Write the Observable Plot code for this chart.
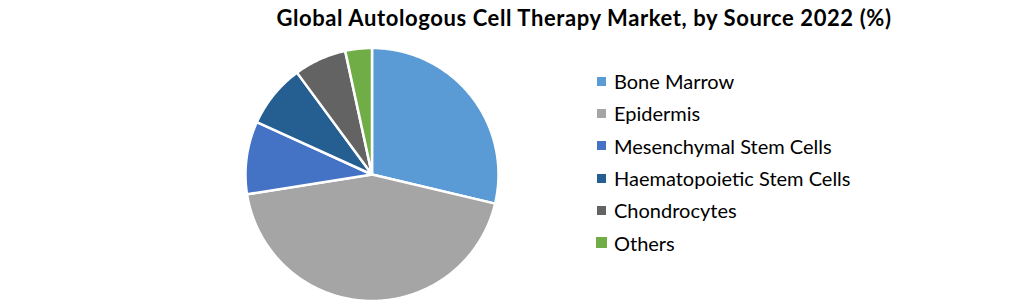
<!DOCTYPE html>
<html><head><meta charset="utf-8">
<script src="https://cdn.jsdelivr.net/npm/d3@7"></script>
<script src="https://cdn.jsdelivr.net/npm/@observablehq/plot@0.6"></script>
<style>
body{margin:0;background:#fff;}
#wrap{position:relative;width:1020px;height:303px;overflow:hidden;font-family:Lato,"Open Sans",sans-serif;color:#000;}
#chart{position:absolute;left:0;top:0;}
#title{position:absolute;left:0;top:6.5px;width:1020px;padding-left:148px;box-sizing:border-box;text-align:center;font-weight:bold;font-size:22px;letter-spacing:0.6px;line-height:22px;white-space:nowrap;}
#legend{position:absolute;left:597px;top:65px;}
.row{height:32.3px;display:flex;align-items:center;font-size:20px;white-space:nowrap;}
.sw{width:9px;height:9px;margin-right:8px;flex:none;}
.row:last-child .sw{width:11px;height:11px;margin-left:-1px;margin-right:7px;}
</style></head>
<body>
<div id="wrap"><div id="chart"></div><div id="title"></div><div id="legend"></div></div>
<script>
const titleText = "Global Autologous Cell Therapy Market, by Source 2022 (%)";
const categories = ["Bone Marrow","Epidermis","Mesenchymal Stem Cells","Haematopoietic Stem Cells","Chondrocytes","Others"];
const shares = [28.7,43.8,9.3,8.1,6.7,3.4];
const colors = ["#5B9BD5","#A5A5A5","#4472C4","#255E91","#636363","#70AD47"];

const W = 1020, H = 303, R = 126.5, cx = 371.5, cy = 174;

const arcs = d3.pie().sort(null).value(d => d.value)(categories.map((c, i) => ({name: c, value: shares[i]})));
const pts = [];
for (const a of arcs) {
  const name = a.data.name;
  pts.push({name, x: 0, y: 0});
  const n = Math.max(2, Math.ceil((a.endAngle - a.startAngle) / 0.01));
  for (let k = 0; k <= n; k++) {
    const t = a.startAngle + (a.endAngle - a.startAngle) * k / n;
    pts.push({name, x: Math.sin(t), y: Math.cos(t)});
  }
  pts.push({name, x: 0, y: 0});
}

const plot = Plot.plot({
  width: W, height: H,
  margin: 0,
  x: {domain: [-cx / R, (W - cx) / R], axis: null},
  y: {domain: [-(H - cy) / R, cy / R], axis: null},
  color: {domain: categories, range: colors},
  marks: [
    Plot.line(pts, {x: "x", y: "y", z: "name", fill: "name", stroke: "white", strokeWidth: 2.5, strokeLinejoin: "round", curve: "linear"})
  ]
});
document.getElementById("chart").appendChild(plot);
document.getElementById("title").textContent = titleText;

const leg = document.getElementById("legend");
categories.forEach((c, i) => {
  const row = document.createElement("div"); row.className = "row";
  const sw = document.createElement("span"); sw.className = "sw"; sw.style.background = colors[i];
  const tx = document.createElement("span"); tx.textContent = c;
  row.appendChild(sw); row.appendChild(tx); leg.appendChild(row);
});
</script>
</body></html>
